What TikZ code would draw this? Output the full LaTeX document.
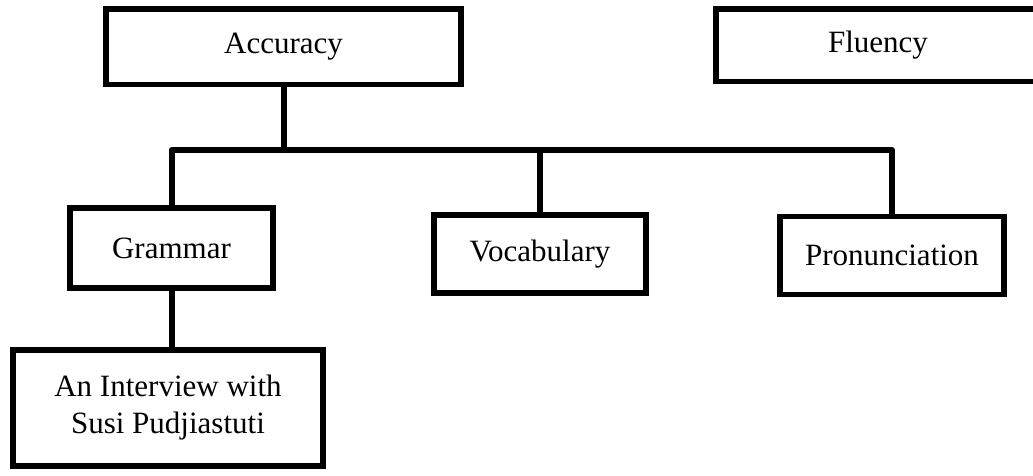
\documentclass[tikz,border=0pt]{standalone}
\usepackage{fontspec}
\setmainfont{Liberation Serif}
\usepackage{tikz}
\usetikzlibrary{calc}
\tikzstyle{topicbox}=[draw, line width=5.5pt, inner sep=0pt, align=center, font=\fontsize{31}{37}\selectfont]
\tikzstyle{link}=[line width=6pt, line join=round]
\begin{document}
\begin{tikzpicture}[x=1pt,y=-1pt]
	\useasboundingbox (0,0) rectangle (1033,475);
	\node[topicbox, minimum width=355pt, minimum height=75.5pt] (acc) at (283.5,46.75) {Accuracy};
	\node[topicbox, minimum width=324pt, minimum height=72.5pt] (flu) at (878,45.25) {Fluency};
	\node[topicbox, minimum width=203pt, minimum height=80pt] (gram) at (171.5,248) {Grammar};
	\node[topicbox, minimum width=212pt, minimum height=78pt] (voc) at (540,254) {Vocabulary};
	\node[topicbox, minimum width=224pt, minimum height=78pt] (pron) at (892,255.5) {Pronunciation};
	\node[topicbox, minimum width=310pt, minimum height=116pt] (inter) at (168,408) {An Interview with\\Susi Pudjiastuti};
	\coordinate (bus) at (0,150);
	\draw[link] (acc.south) -- (acc.south |- bus);
	\draw[link] (gram.north) -- (gram.north |- bus) -- (pron.north |- bus) -- (pron.north);
	\draw[link] (voc.north) -- (voc.north |- bus);
	\draw[link] (gram.south) -- (gram.south |- inter.north);
\end{tikzpicture}
\end{document}
